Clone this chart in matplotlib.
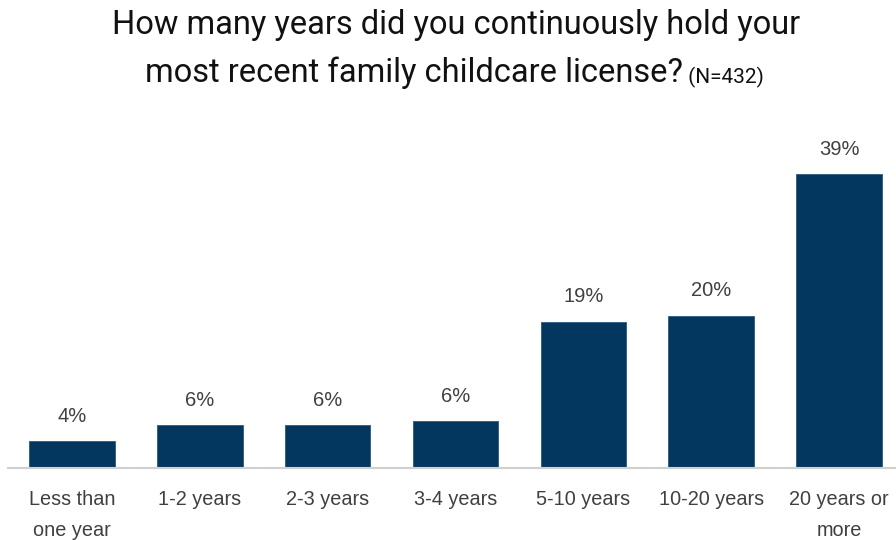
import matplotlib
matplotlib.use('Agg')
import matplotlib.pyplot as plt

# survey answers, share of respondents (%)
categories = ['Less than\none year', '1-2 years', '2-3 years', '3-4 years',
              '5-10 years', '10-20 years', '20 years or\nmore']
shares = [3.6, 5.7, 5.7, 6.2, 19.4, 20.2, 39.0]

title_main = 'How many years did you continuously hold your'
title_second = 'most recent family childcare license?'
sample_note = ' (N=432)'

bar_color = '#04375f'
text_gray = '#404040'
title_font = 'Roboto'

fig = plt.figure(figsize=(8.96, 5.4), dpi=100)
ax = fig.add_axes([8 / 896, (540 - 468) / 540, 888 / 896, 320 / 540])

x = range(len(categories))
bars = ax.bar(x, shares, width=0.67, color=bar_color, edgecolor='#2d5a80', linewidth=0.6)

ax.set_xlim(-0.5, 6.445)
ax.set_ylim(0, 39.0 * 320 / 294)

for b, v in zip(bars, shares):
    ax.annotate(f'{round(v)}%', (b.get_x() + b.get_width() / 2, v),
                xytext=(0, 11), textcoords='offset points', ha='center', va='bottom',
                fontsize=14.5, color=text_gray, family='Liberation Sans')

ax.set_xticks(list(x))
ax.set_xticklabels(categories, fontsize=14.3, color=text_gray, family='Liberation Sans',
                   linespacing=1.8)
ax.tick_params(axis='x', length=0, pad=16)
ax.set_yticks([])
for s in ['top', 'left', 'right']:
    ax.spines[s].set_visible(False)
ax.spines['bottom'].set_color('#d0d0d0')
ax.spines['bottom'].set_linewidth(1.5)

fig.text(456 / 896, 1 - 25 / 540, title_main, ha='center', va='center',
         fontsize=23.5, family=title_font, color='#111111')

# second title line: main part plus a smaller sample size, centred together
t2 = fig.text(0, 1 - 73 / 540, title_second, ha='left', va='center',
              fontsize=23.5, family=title_font, color='#111111')
t3 = fig.text(0, 1 - 73 / 540, sample_note, ha='left', va='center',
              fontsize=15, family=title_font, color='#111111')
fig.canvas.draw()
r = fig.canvas.get_renderer()
w2 = t2.get_window_extent(r).width
w3 = t3.get_window_extent(r).width
start = 454 - (w2 + w3) / 2
t2.set_x(start / 896)
t3.set_x((start + w2) / 896)
t3.set_y(1 - 77 / 540)

fig.savefig('out.png', dpi=100)
